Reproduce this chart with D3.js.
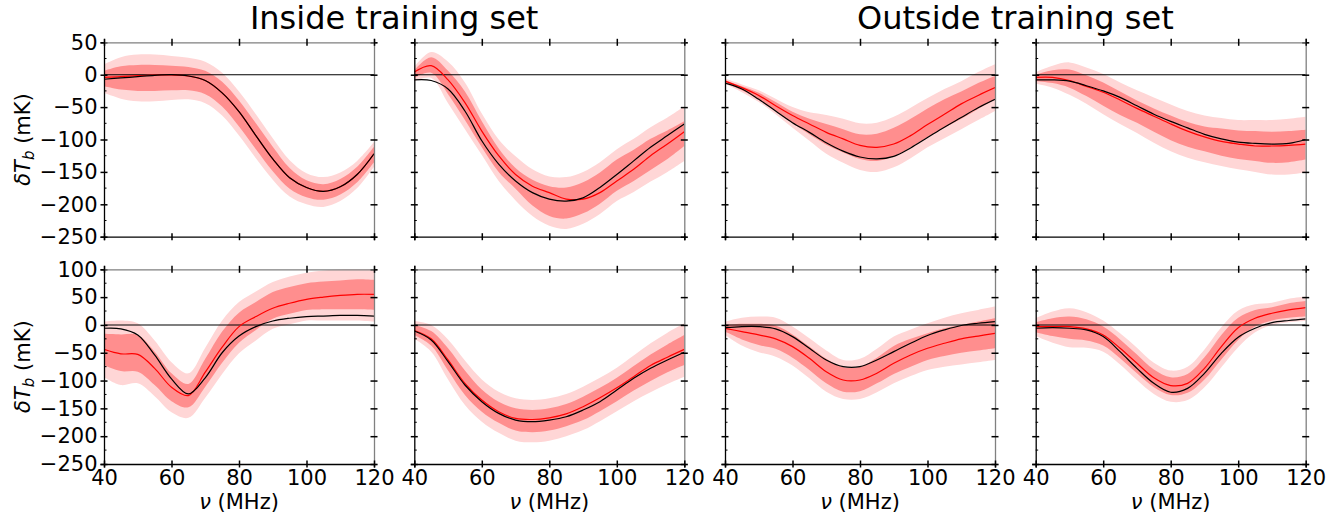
<!DOCTYPE html>
<html><head><meta charset="utf-8">
<script src="https://cdn.jsdelivr.net/npm/d3@7"></script>
<style>
body{margin:0;background:#fff;}
svg{display:block;font-family:"DejaVu Sans",sans-serif;}
</style></head>
<body><svg id="chart" width="1343" height="520"></svg>
<script>
// ---------------- data ----------------
const freq = [40,45,50,55,60,65,70,75,80,85,90,95,100,105,110,115,120];
const xTicks = [40,60,80,100,120];
const yTicksTop = [50,0,-50,-100,-150,-200,-250];
const yTicksBottom = [100,50,0,-50,-100,-150,-200,-250];
const titles = ["Inside training set","Outside training set"];

// panel 1 (top, inside)
const p1Truth = [-7,-5,-3,-1,0,-2,-9,-28,-57,-94,-130,-159,-174,-180,-173,-154,-122];
const p1Mean  = [-4,-3,-1.5,-0.5,-0.5,-2,-9,-28,-57,-94,-130,-159,-174,-180,-173,-154,-122];
const p1Mid   = [-6,-5,-5,-5,-5,-6,-12,-30,-60,-95,-130,-160,-176,-181,-173,-154,-123];
const p1W1    = [12,18,20,20,19,18,18,19,20,20,19,16,13,12,12,12,12];
const p1W2    = [22,32,36,36,34,32,32,33,34,34,32,28,24,23,22,21,19];
// panel 2 (top, inside)
const p2Truth = [-8,-9,-22,-56,-102,-138,-164,-182,-192,-195,-190,-174,-154,-133,-112,-94,-76];
const p2Mean  = [4,14,-8,-43,-87,-125,-154,-172,-182,-192,-192,-182,-164,-146,-125,-107,-88];
const p2Mid   = [1,15,-12,-48,-92,-132,-160,-182,-195,-198,-190,-175,-155,-140,-123,-108,-91];
const p2W1    = [6,12,18,22,20,18,16,20,23,24,24,24,24,24,24,22,19];
const p2W2    = [11,20,32,36,32,32,34,36,38,40,40,40,40,41,42,42,42];
// panel 3 (top, outside)
const p3Truth = [-13,-22,-38,-56,-74,-89,-105,-118,-127,-130,-126,-113,-97,-81,-66,-51,-38];
const p3Mean  = [-10,-20,-32,-48,-63,-76,-89,-99,-109,-112,-107,-94,-77,-61,-45,-32,-20];
const p3Mid   = [-10,-21,-33,-49,-66,-80,-92,-102,-111,-112,-104,-90,-74,-60,-47,-33,-20];
const p3W1    = [2,3,5,7,9,12,16,18,19,21,22,22,22,22,21,20,18];
const p3W2    = [4,6,9,12,16,22,30,34,36,38,39,39,38,38,37,37,36];
// panel 4 (top, outside)
const p4Truth = [-8,-8,-10,-17,-25,-35,-48,-61,-72,-82,-92,-99,-104,-106,-107,-106,-100];
const p4Mean  = [-4,-4,-9,-18,-27,-39,-52,-64,-76,-87,-96,-103,-107,-110,-110,-109,-107];
const p4Mid   = [-5,-3,-6,-17,-30,-44,-57,-70,-82,-92,-99,-104,-108,-110,-112,-111,-108];
const p4W1    = [5,10,14,16,18,18,17,18,19,19,19,21,22,23,24,24,23];
const p4W2    = [9,17,25,28,31,32,33,35,36,36,36,37,38,40,42,43,43];
// panel 5 (bottom, inside)
const p5Truth = [-6,-7,-18,-54,-97,-124,-95,-50,-20,-3,7,12,15,16,17,17,16];
const p5Mean  = [-44,-52,-53,-78,-112,-127,-85,-40,-3,15,30,39,46,50,53,55,55];
const p5Mid   = [-44,-50,-51,-78,-112,-127,-86,-40,-5,16,35,44,51,53,54,55,54];
const p5W1    = [28,33,33,30,25,21,25,28,27,25,24,24,24,25,26,27,27];
const p5W2    = [50,58,54,50,45,40,45,48,46,44,42,43,43,45,46,47,48];
// panel 6 (bottom, inside)
const p6Truth = [-11,-27,-66,-108,-138,-159,-171,-174,-171,-165,-153,-138,-117,-96,-78,-63,-49];
const p6Mean  = [-10,-25,-63,-105,-135,-156,-168,-170,-167,-160,-147,-131,-113,-93,-73,-58,-44];
const p6Mid   = [-9,-24,-62,-104,-136,-157,-170,-173,-170,-162,-150,-134,-116,-96,-77,-60,-45];
const p6W1    = [9,13,20,22,20,19,20,20,20,20,21,21,21,22,24,25,27];
const p6W2    = [16,24,36,40,38,37,38,38,38,38,39,39,39,41,44,46,48];
// panel 7 (bottom, outside)
const p7Truth = [-5,-3,-3,-7,-21,-42,-63,-75,-75,-63,-48,-33,-19,-9,-1,3,6];
const p7Mean  = [-6,-12,-18,-25,-39,-60,-84,-99,-99,-87,-69,-54,-42,-33,-25,-20,-15];
const p7Mid   = [-6,-12,-17,-22,-38,-60,-83,-98,-97,-82,-63,-50,-39,-31,-25,-20,-15];
const p7W1    = [6,14,19,21,21,21,22,22,22,23,25,25,24,25,25,26,27];
const p7W2    = [12,25,32,35,35,36,37,35,36,39,42,42,42,44,46,47,48];
// panel 8 (bottom, outside)
const p8Truth = [-6,-5,-6,-9,-21,-48,-78,-105,-121,-114,-87,-51,-22,-6,4,8,11];
const p8Mean  = [-3,-3,-3,-7,-18,-42,-69,-95,-109,-105,-78,-39,-5,12,21,27,31];
const p8Mid   = [-4,-4,-5,-9,-20,-43,-70,-96,-110,-105,-78,-40,-7,12,20,26,29];
const p8W1    = [9,16,20,19,17,17,17,16,16,17,20,22,20,15,12,13,14];
const p8W2    = [16,28,35,32,28,28,29,28,28,30,34,36,33,25,20,21,22];

// ---------------- layout ----------------
const lefts = [104, 414.3, 725, 1035.7];
const pw = 270;
const rows = [
  {top: 42.3, bottom: 236.7, domain: [-250, 50], ticks: yTicksTop},
  {top: 269.3, bottom: 464, domain: [-250, 100], ticks: yTicksBottom}
];
const panels = [
  {row:0,col:0,truth:p1Truth,mean:p1Mean,mid:p1Mid,w1:p1W1,w2:p1W2},
  {row:0,col:1,truth:p2Truth,mean:p2Mean,mid:p2Mid,w1:p2W1,w2:p2W2},
  {row:0,col:2,truth:p3Truth,mean:p3Mean,mid:p3Mid,w1:p3W1,w2:p3W2},
  {row:0,col:3,truth:p4Truth,mean:p4Mean,mid:p4Mid,w1:p4W1,w2:p4W2},
  {row:1,col:0,truth:p5Truth,mean:p5Mean,mid:p5Mid,w1:p5W1,w2:p5W2},
  {row:1,col:1,truth:p6Truth,mean:p6Mean,mid:p6Mid,w1:p6W1,w2:p6W2},
  {row:1,col:2,truth:p7Truth,mean:p7Mean,mid:p7Mid,w1:p7W1,w2:p7W2},
  {row:1,col:3,truth:p8Truth,mean:p8Mean,mid:p8Mid,w1:p8W1,w2:p8W2}
];

const svg = d3.select("#chart");
const defs = svg.append("defs");
const FS = 21;
const curve = d3.curveCatmullRom.alpha(0.5);

panels.forEach((p, i) => {
  const r = rows[p.row];
  const x0 = lefts[p.col];
  const x = d3.scaleLinear().domain([40,120]).range([x0, x0 + pw]);
  const y = d3.scaleLinear().domain(r.domain).range([r.bottom, r.top]);
  const g = svg.append("g");

  defs.append("clipPath").attr("id","clip"+i)
    .append("rect").attr("x",x0).attr("y",r.top).attr("width",pw).attr("height",r.bottom-r.top);
  const pg = g.append("g").attr("clip-path","url(#clip"+i+")");

  const idx = d3.range(freq.length);
  const band = (w) => d3.area().curve(curve)
    .x(j => x(freq[j]))
    .y0(j => y(p.mid[j] - w[j]))
    .y1(j => y(p.mid[j] + w[j]));
  pg.append("path").attr("d", band(p.w2)(idx)).attr("fill","#ffd6d6");
  pg.append("path").attr("d", band(p.w1)(idx)).attr("fill","#ff8e8e");
  pg.append("line").attr("x1",x(40)).attr("x2",x(120)).attr("y1",y(0)).attr("y2",y(0))
    .attr("stroke","#000").attr("stroke-width",1.1);
  const line = (arr) => d3.line().curve(curve).x(j => x(freq[j])).y(j => y(arr[j]));
  pg.append("path").attr("d", line(p.mean)(idx)).attr("fill","none").attr("stroke","#ff0000").attr("stroke-width",1.2);
  pg.append("path").attr("d", line(p.truth)(idx)).attr("fill","none").attr("stroke","#000").attr("stroke-width",1.2);

  // minor ticks (left, inward)
  const minor = d3.range(r.domain[0], r.domain[1] + 1, 25).filter(v => v % 50 !== 0);
  g.append("g").selectAll("line").data(minor).join("line")
    .attr("x1", x0).attr("x2", x0 + 2.5).attr("y1", d => y(d)).attr("y2", d => y(d))
    .attr("stroke","#000").attr("stroke-width",1);

  // axes
  const showY = p.col === 0;
  const showX = p.row === 1;
  const axL = g.append("g").attr("transform",`translate(${x0},0)`)
    .call(d3.axisLeft(y).tickValues(r.ticks).tickSize(3.5).tickPadding(3)
      .tickFormat(showY ? (d => d < 0 ? "\u2212" + Math.abs(d) : String(d)) : ""));
  const axR = g.append("g").attr("transform",`translate(${x0+pw},0)`)
    .call(d3.axisRight(y).tickValues(r.ticks).tickSize(3.5).tickFormat(""));
  const axB = g.append("g").attr("transform",`translate(0,${r.bottom})`)
    .call(d3.axisBottom(x).tickValues(xTicks).tickSize(3.5).tickPadding(2.5)
      .tickFormat(showX ? d3.format("d") : ""));
  const axT = g.append("g").attr("transform",`translate(0,${r.top})`)
    .call(d3.axisTop(x).tickValues(xTicks).tickSize(3.5).tickFormat(""));
  [axL, axR].forEach(a => a.selectAll(".tick line").attr("x1",-3.5).attr("x2",3.5));
  [axB, axT].forEach(a => a.selectAll(".tick line").attr("y1",-3.5).attr("y2",3.5));
  [axL, axR, axB, axT].forEach(a => {
    a.selectAll(".tick line").attr("stroke","#000").attr("stroke-width",1.5);
    a.selectAll(".tick text").attr("font-size",FS).attr("font-family","DejaVu Sans").attr("fill","#000");
    a.select(".domain").attr("stroke-width",1.3);
  });
  axL.select(".domain").attr("stroke","#000");
  axB.select(".domain").attr("stroke","#000");
  axR.select(".domain").attr("stroke","#808080");
  axT.select(".domain").attr("stroke","#808080");
  axB.selectAll(".tick text").attr("dy","0.71em");

  if (showX) {
    const t = g.append("text").attr("x", x0 + pw/2).attr("y", 509)
      .attr("text-anchor","middle").attr("font-size",FS);
    t.append("tspan").attr("font-style","italic").text("\u03bd");
    t.append("tspan").text(" (MHz)");
  }
  if (showY) {
    const cy = (r.top + r.bottom) / 2;
    const t = g.append("text").attr("transform",`translate(30,${cy}) rotate(-90)`)
      .attr("text-anchor","middle").attr("font-size",FS);
    t.append("tspan").attr("font-style","italic").text("\u03b4T");
    t.append("tspan").attr("font-style","italic").attr("font-size",15).attr("dy",4).text("b");
    t.append("tspan").attr("dy",-4).text(" (mK)");
  }
});

// titles
[[lefts[0], lefts[1]+pw],[lefts[2], lefts[3]+pw]].forEach((ext, k) => {
  svg.append("text").attr("x",(ext[0]+ext[1])/2).attr("y",29)
    .attr("text-anchor","middle").attr("font-size",32).attr("fill","#000").text(titles[k]);
});
</script>
</body></html>
